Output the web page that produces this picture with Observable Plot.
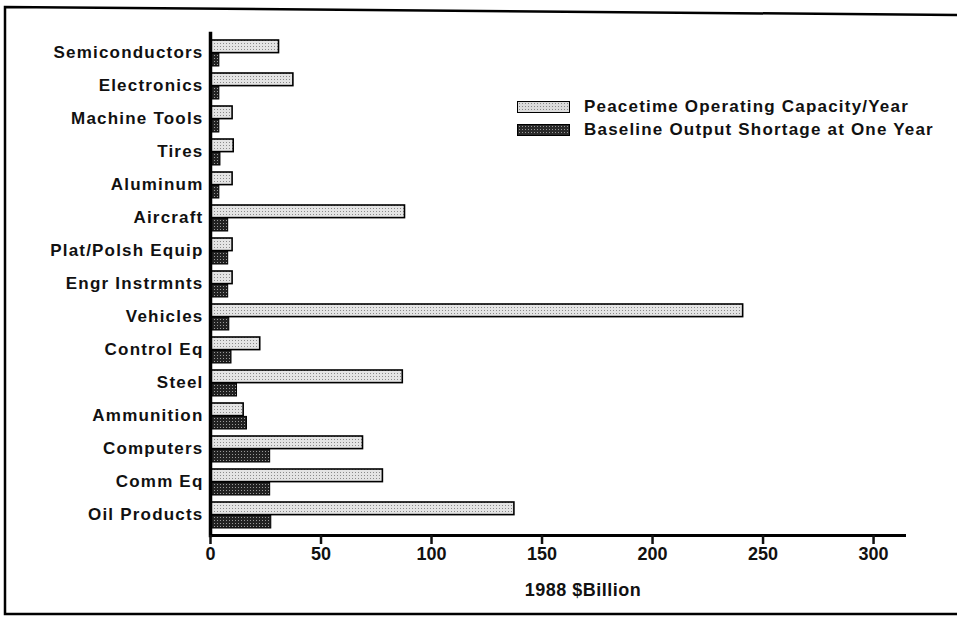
<!DOCTYPE html>
<html>
<head>
<meta charset="utf-8">
<script src="https://cdn.jsdelivr.net/npm/d3@7"></script>
<script src="https://cdn.jsdelivr.net/npm/@observablehq/plot@0.6"></script>
<style>
  html, body { margin: 0; padding: 0; background: #fff; }
  #wrap { position: relative; width: 957px; height: 618px; overflow: hidden; font-family: "Liberation Sans", Arial, sans-serif; }
  #frame { position: absolute; left: 0; top: 0; pointer-events: none; }
  #chart { position: absolute; left: 0; top: 0; }
  .leg { position: absolute; left: 517px; display: flex; align-items: center; font-weight: bold; font-size: 17px; color: #111; letter-spacing: 1.2px; }
  .sw { width: 51px; height: 10px; border: 1.5px solid #000; margin-right: 14px; }
  #xlabel { position: absolute; left: 583px; top: 580px; transform: translateX(-50%); font-weight: bold; font-size: 18px; letter-spacing: 0.5px; color: #111; }
</style>
</head>
<body>
<div id="wrap">
  <div id="chart"></div>
  <svg id="frame" width="957" height="618"><polyline points="957,15 5,7 5,614 957,614" fill="none" stroke="#000" stroke-width="2.5"/></svg>
  <div class="leg" style="top:97px"><div class="sw" style="background-color:#dcdcdc;background-image:radial-gradient(#888 0.6px, transparent 0.8px);background-size:3px 3px"></div><span>Peacetime Operating Capacity/Year</span></div>
  <div class="leg" style="top:120px"><div class="sw" style="background-color:#2a2a2a;background-image:radial-gradient(#999 0.6px, transparent 0.8px);background-size:3px 3px"></div><span>Baseline Output Shortage at One Year</span></div>
  <div id="xlabel">1988 $Billion</div>
</div>
<script>
const categories = ["Semiconductors","Electronics","Machine Tools","Tires","Aluminum","Aircraft","Plat/Polsh Equip","Engr Instrmnts","Vehicles","Control Eq","Steel","Ammunition","Computers","Comm Eq","Oil Products"];
const peacetime = [31, 37.5, 10, 10.5, 10, 88, 10, 10, 241, 22.5, 87, 15, 69, 78, 137.5];
const shortage  = [4, 4, 4, 4.5, 4, 8, 8, 8, 8.5, 9.5, 12, 16.5, 27, 27, 27.5];
const xTicks = [0, 50, 100, 150, 200, 250, 300];

const peaceData = categories.map((c, i) => ({category: c, value: peacetime[i]}));
const shortData = categories.map((c, i) => ({category: c, value: shortage[i]}));

const marginTop = 33, marginBottom = 83, H = 618;
const step = (H - marginTop - marginBottom) / (categories.length - 0.2 + 0.2);
const half = step * 0.8 / 2;

const chart = Plot.plot({
  width: 957,
  height: H,
  marginLeft: 210,
  marginRight: 53,
  marginTop,
  marginBottom,
  style: {fontFamily: "'Liberation Sans', Arial, sans-serif", color: "#111", background: "transparent"},
  x: {domain: [0, 314]},
  y: {domain: categories, paddingInner: 0.2, paddingOuter: 0.1},
  marks: [
    Plot.barX(peaceData, {x: "value", y: "category", insetBottom: half, fill: "url(#lightPat)", stroke: "#000", strokeWidth: 1.6}),
    Plot.barX(shortData, {x: "value", y: "category", insetTop: half, fill: "url(#darkPat)", stroke: "#000", strokeWidth: 1}),
    Plot.frame({anchor: "bottom", stroke: "#000", strokeWidth: 3}),
    Plot.frame({anchor: "left", stroke: "#000", strokeWidth: 3.5}),
    Plot.axisX({ticks: xTicks, tickSize: 9, tickPadding: 3, tickFormat: d => d, label: null, fontSize: 18, fontWeight: "bold", strokeWidth: 2.5}),
    Plot.axisY({tickSize: 0, tickPadding: 7, dy: -1, label: null, fontSize: 17, fontWeight: "bold"})
  ]
});

const svg = d3.select(chart);
svg.selectAll("g[aria-label='y-axis tick label'] text").style("letter-spacing", "1.2px");
const defs = svg.insert("defs", ":first-child");
const lp = defs.append("pattern").attr("id", "lightPat").attr("patternUnits", "userSpaceOnUse").attr("width", 3).attr("height", 3);
lp.append("rect").attr("width", 3).attr("height", 3).attr("fill", "#e4e4e4");
lp.append("rect").attr("x", 1).attr("y", 1).attr("width", 1).attr("height", 1).attr("fill", "#8a8a8a");
const dp = defs.append("pattern").attr("id", "darkPat").attr("patternUnits", "userSpaceOnUse").attr("width", 3).attr("height", 3);
dp.append("rect").attr("width", 3).attr("height", 3).attr("fill", "#222");
dp.append("rect").attr("x", 1).attr("y", 1).attr("width", 1).attr("height", 1).attr("fill", "#9a9a9a");

document.getElementById("chart").append(chart);
</script>
</body>
</html>
